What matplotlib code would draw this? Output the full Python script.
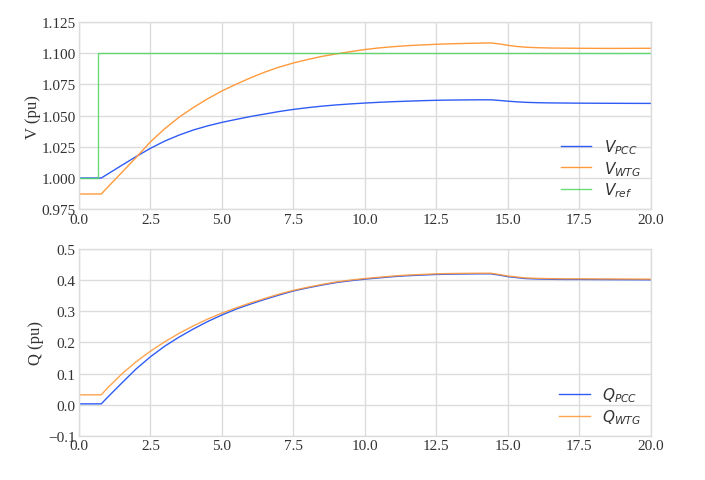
import matplotlib
matplotlib.use("Agg")
import matplotlib.pyplot as plt

# ---- data ----
t_v = [0.0, 0.78, 1.0, 1.5, 2.0, 2.5, 3.0, 3.5, 4.0, 4.5, 5.0, 5.5, 6.0, 6.5, 7.0,
       7.5, 8.0, 8.5, 9.0, 9.5, 10.0, 10.5, 11.0, 11.5, 12.0, 12.5, 13.0, 13.5,
       14.0, 14.4, 14.7, 15.0, 15.3, 15.6, 16.0, 16.5, 17.0, 17.5, 18.5, 20.0]
v_pcc = [1.0000, 1.0000, 1.0031, 1.0102, 1.0172, 1.0238, 1.0296, 1.0344, 1.0385,
         1.0418, 1.0446, 1.0470, 1.0493, 1.0513, 1.0533, 1.0550, 1.0564, 1.0576,
         1.0586, 1.0594, 1.0601, 1.0607, 1.0612, 1.0616, 1.0620, 1.0623, 1.0625,
         1.0626, 1.0627, 1.0627, 1.0622, 1.0616, 1.0611, 1.0607, 1.0604, 1.0602,
         1.0601, 1.0600, 1.0599, 1.0598]
v_wtg = [0.9872, 0.9872, 0.9925, 1.0045, 1.0165, 1.0290, 1.0395, 1.0487, 1.0565,
         1.0635, 1.0698, 1.0752, 1.0803, 1.0849, 1.0889, 1.0922, 1.0950, 1.0975,
         1.0995, 1.1013, 1.1030, 1.1043, 1.1053, 1.1061, 1.1067, 1.1072, 1.1076,
         1.1079, 1.1081, 1.1083, 1.1075, 1.1064, 1.1055, 1.1049, 1.1045, 1.1042,
         1.1041, 1.1040, 1.1039, 1.1040]
t_ref = [0.0, 0.68, 0.68, 20.0]
v_ref = [1.0, 1.0, 1.1, 1.1]

q_pcc = [0.003, 0.003, 0.024, 0.070, 0.115, 0.154, 0.188, 0.217, 0.243, 0.267,
         0.288, 0.307, 0.323, 0.338, 0.352, 0.365, 0.375, 0.384, 0.392, 0.398,
         0.403, 0.407, 0.411, 0.414, 0.416, 0.418, 0.419, 0.4195, 0.420, 0.420,
         0.416, 0.411, 0.408, 0.405, 0.4035, 0.4025, 0.402, 0.402, 0.4015, 0.401]
q_wtg = [0.032, 0.032, 0.054, 0.099, 0.138, 0.172, 0.202, 0.229, 0.253, 0.275,
         0.294, 0.311, 0.327, 0.341, 0.355, 0.367, 0.377, 0.386, 0.394, 0.400,
         0.405, 0.409, 0.413, 0.416, 0.418, 0.420, 0.421, 0.4215, 0.422, 0.422,
         0.418, 0.413, 0.410, 0.407, 0.4055, 0.4045, 0.404, 0.404, 0.4035, 0.403]

v_ticks = [0.975, 1.000, 1.025, 1.050, 1.075, 1.100, 1.125]
q_ticks = [-0.1, 0.0, 0.1, 0.2, 0.3, 0.4, 0.5]
x_ticks = [0.0, 2.5, 5.0, 7.5, 10.0, 12.5, 15.0, 17.5, 20.0]

BLUE = "#2f5cf5"
ORANGE = "#ff9a3c"
GREEN = "#4fd65f"
GRID = "#dcdcdc"
TXT = "#333333"

fig = plt.figure(figsize=(7.05, 4.81), dpi=100)
ax1 = fig.add_axes([0.112, 0.563, 0.811, 0.389])
ax2 = fig.add_axes([0.112, 0.0915, 0.811, 0.389])

serif = "Liberation Serif"

def style(ax, yticks, ylim, ylabel, fmt, labx):
    ax.set_xlim(0, 20)
    ax.set_ylim(*ylim)
    ax.set_xticks(x_ticks)
    ax.set_xticklabels([f"{x:.1f}" for x in x_ticks], family=serif, fontsize=11, color=TXT)
    ax.set_yticks(yticks)
    ax.set_yticklabels([fmt(y) for y in yticks], family=serif, fontsize=11, color=TXT)
    ax.tick_params(length=0, pad=2.5)
    ax.grid(True, color=GRID, linewidth=1.0)
    ax.set_axisbelow(True)
    for s in ax.spines.values():
        s.set_color(GRID)
        s.set_linewidth(1.0)
    ax.set_ylabel(ylabel, family=serif, fontsize=12, color=TXT)
    ax.yaxis.set_label_coords(labx, 0.5)

ax1.plot(t_v, v_pcc, color=BLUE, lw=1.0, label=r"$V_{PCC}$")
ax1.plot(t_v, v_wtg, color=ORANGE, lw=1.0, label=r"$V_{WTG}$")
ax1.plot(t_ref, v_ref, color=GREEN, lw=1.0, alpha=0.85, label=r"$V_{ref}$")
style(ax1, v_ticks, (0.975, 1.125), "V (pu)", lambda y: f"{y:.3f}", -0.066)
ax1.legend(loc="lower right", frameon=False, fontsize=11, handlelength=2.0,
           handletextpad=0.8, labelcolor=TXT, borderaxespad=0.25, labelspacing=0.2)

ax2.plot(t_v, q_pcc, color=BLUE, lw=1.0, label=r"$Q_{PCC}$")
ax2.plot(t_v, q_wtg, color=ORANGE, lw=1.0, alpha=0.9, label=r"$Q_{WTG}$")
style(ax2, q_ticks, (-0.1, 0.5), "Q (pu)",
      lambda y: ("\u2212" if y < 0 else "") + f"{abs(y):.1f}", -0.062)
ax2.legend(loc="lower right", frameon=False, fontsize=11, handlelength=2.0,
           handletextpad=0.8, labelcolor=TXT, borderaxespad=0.25, labelspacing=0.2)

fig.savefig("out.png", dpi=100)
